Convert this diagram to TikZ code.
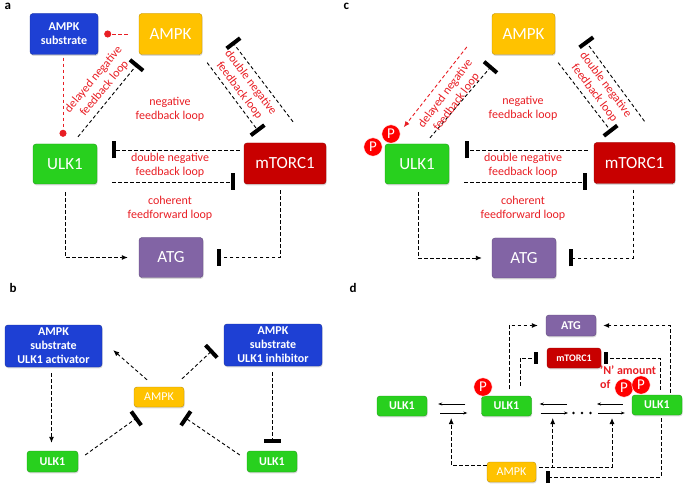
\documentclass[tikz,border=0pt]{standalone}
\usepackage{fontspec}
\setmainfont{Carlito}
\usetikzlibrary{arrows.meta,shadows}

\definecolor{ampkyellow}{RGB}{255,194,0}
\definecolor{ulkgreen}{RGB}{40,208,30}
\definecolor{mtorred}{RGB}{200,0,0}
\definecolor{atgpurple}{RGB}{130,100,165}
\definecolor{subblue}{RGB}{30,64,212}
\definecolor{looptext}{RGB}{232,30,36}

\tikzset{
  box/.style={draw=#1!75!black,fill=#1,rounded corners=3pt,text=white,inner sep=0pt,
    drop shadow={opacity=0.3,shadow xshift=0.6pt,shadow yshift=-1.4pt}},
  bigtext/.style={font=\fontsize{17}{20}\selectfont},
  smalltext/.style={font=\fontsize{12}{14}\selectfont},
  boldtext/.style={font=\bfseries\fontsize{12}{14}\selectfont},
  looplabel/.style={text=looptext,align=center,font=\fontsize{12}{14}\selectfont},
  link/.style={dash pattern=on 3.5pt off 2.5pt,line width=0.9pt},
  act/.style={link,-{Latex[length=6pt,width=5pt]}},
  inh/.style={link,-{Bar[width=17pt,line width=4pt]}},
  inhsmall/.style={link,-{Bar[width=12pt,line width=3.5pt]}},
  rxn/.style={line width=0.6pt,-{Stealth[length=4pt,width=3pt]}},
  pdot/.style={circle,fill=red,draw=white,line width=0.5pt,text=white,inner sep=0pt,
    minimum size=18.5pt,font=\fontsize{15}{15}\selectfont},
  panel/.style={font=\bfseries\fontsize{13}{13}\selectfont,anchor=north west}
}

\begin{document}
\begin{tikzpicture}[x=1pt,y=-1pt]
\useasboundingbox (0,0) rectangle (685,486);

\node[panel] (labA) at (1,0) {a};
\node[box=subblue,boldtext,align=center,minimum width=68pt,minimum height=41pt] (subA) at (64,34) {AMPK\\substrate};
\node[box=ampkyellow,bigtext,minimum width=63pt,minimum height=41pt] (ampkA) at (170.5,34) {AMPK};
\node[box=ulkgreen,bigtext,minimum width=64pt,minimum height=40pt] (ulkA) at (65,164) {ULK1};
\node[box=mtorred,bigtext,minimum width=82pt,minimum height=41pt] (mtorA) at (285,163.5) {mTORC1};
\node[box=atgpurple,bigtext,minimum width=64pt,minimum height=40pt] (atgA) at (171,257.5) {ATG};

\draw[link,looptext,-{Circle[length=7pt]}] ([shift={(-11,0)}]ampkA.west) -- ([shift={(6,0)}]subA.east);
\draw[link,looptext,-{Circle[length=7pt]}] ([shift={(-1,3)}]subA.south) -- ([shift={(-2,-7)}]ulkA.north);
\draw[inh] ([shift={(13,-7)}]ulkA.north) -- ([shift={(-1,9)}]ampkA.south west);
\draw[inh] ([shift={(5,8)}]ampkA.south east) -- ([shift={(15,-11)}]mtorA.north west);
\draw[inh] ([shift={(8,-21)}]mtorA.north) -- ([shift={(30,-13)}]ampkA.south east);
\draw[inh] ([shift={(-4,-13.5)}]mtorA.west) -- ([shift={(15,-14)}]ulkA.east);
\draw[inh] ([shift={(15,18)}]ulkA.east) -- ([shift={(-9,18.5)}]mtorA.west);
\draw[act] ([shift={(0.5,8)}]ulkA.south) |- ([shift={(-11,0)}]atgA.west);
\draw[inh] ([shift={(-5,6)}]mtorA.south) |- ([shift={(14,0)}]atgA.east);

\node[looplabel,rotate=50] (delA) at (99,84) {delayed negative\\feedback loop};
\node[looplabel] (negA) at (170,109) {negative\\feedback loop};
\node[looplabel,rotate=-53] (dnegA) at (245,86.5) {double negative\\feedback loop};
\node[looplabel] (dnegA2) at (170,165) {double negative\\feedback loop};
\node[looplabel] (cohA) at (170,208) {coherent\\feedforward loop};

\node[panel] (labC) at (340,0) {c};
\node[box=ampkyellow,bigtext,minimum width=63pt,minimum height=41pt] (ampkC) at (523.5,34) {AMPK};
\node[box=ulkgreen,bigtext,minimum width=64pt,minimum height=40pt] (ulkC) at (417,164) {ULK1};
\node[box=mtorred,bigtext,minimum width=81pt,minimum height=41pt] (mtorC) at (634.5,163) {mTORC1};
\node[box=atgpurple,bigtext,minimum width=64pt,minimum height=40pt] (atgC) at (524,258) {ATG};
\node[pdot] (pC2) at (373,147) {P};
\node[pdot] (pC1) at (391,134) {P};

\draw[link,looptext,-{Latex[length=6pt,width=5pt]}] ([shift={(-25,13)}]ampkC.west) -- ([shift={(6,0)}]pC1.north east);
\draw[inh] ([shift={(13,-6)}]ulkC.north) -- ([shift={(0,11)}]ampkC.south west);
\draw[inh] ([shift={(3,8)}]ampkC.south east) -- ([shift={(18,-10)}]mtorC.north west);
\draw[inh] ([shift={(10,-21)}]mtorC.north) -- ([shift={(30,-14)}]ampkC.south east);
\draw[inh] ([shift={(-6,-13)}]mtorC.west) -- ([shift={(16,-14)}]ulkC.east);
\draw[inh] ([shift={(15,18)}]ulkC.east) -- ([shift={(-7,19)}]mtorC.west);
\draw[act] ([shift={(1,8)}]ulkC.south) |- ([shift={(-10,0)}]atgC.west);
\draw[inh] ([shift={(-1.5,6)}]mtorC.south) |- ([shift={(13,0)}]atgC.east);

\node[looplabel,rotate=53] (delC) at (451,98) {delayed negative\\feedback loop};
\node[looplabel] (negC) at (523,108) {negative\\feedback loop};
\node[looplabel,rotate=-53] (dnegC) at (600,89) {double negative\\feedback loop};
\node[looplabel] (dnegC2) at (523,165) {double negative\\feedback loop};
\node[looplabel] (cohC) at (523,208) {coherent\\feedforward loop};

\node[panel] (labB) at (6,280) {b};
\node[box=subblue,boldtext,align=center,minimum width=97pt,minimum height=42pt] (actB) at (53.5,346) {AMPK\\substrate\\ULK1 activator};
\node[box=subblue,boldtext,align=center,minimum width=98pt,minimum height=42pt] (inhB) at (273,345) {AMPK\\substrate\\ULK1 inhibitor};
\node[box=ampkyellow,smalltext,minimum width=50pt,minimum height=20pt] (ampkB) at (159,397) {AMPK};
\node[box=ulkgreen,boldtext,minimum width=51pt,minimum height=21pt] (ulkBl) at (52.5,461.5) {ULK1};
\node[box=ulkgreen,boldtext,minimum width=50pt,minimum height=21pt] (ulkBr) at (272,461.5) {ULK1};

\draw[act] ([shift={(-12,-7)}]ampkB.north) -- ([shift={(11,-17)}]actB.south east);
\draw[inh] ([shift={(23,-8)}]ampkB.north) -- ([shift={(-11,5)}]inhB.west);
\draw[act] ([shift={(-2,6)}]actB.south) -- ([shift={(-1,-8)}]ulkBl.north);
\draw[inh] ([shift={(-1,6)}]inhB.south) -- ([shift={(0,-8)}]ulkBr.north);
\draw[inh] ([shift={(7,-6.5)}]ulkBl.east) -- ([shift={(4,10)}]ampkB.south west);
\draw[inh] ([shift={(-7,-6.5)}]ulkBr.west) -- ([shift={(0,10)}]ampkB.south east);

\node[panel] (labD) at (346,280) {d};
\node[box=atgpurple,boldtext,minimum width=50pt,minimum height=21pt] (atgD) at (571,325.5) {ATG};
\node[box=mtorred,font=\bfseries\fontsize{10}{12}\selectfont,minimum width=54pt,minimum height=20pt] (mtorD) at (574,358) {mTORC1};
\node[box=ulkgreen,boldtext,minimum width=50pt,minimum height=20pt] (ulkD1) at (402,406) {ULK1};
\node[box=ulkgreen,boldtext,minimum width=50pt,minimum height=20pt] (ulkD2) at (506.5,406) {ULK1};
\node[box=ulkgreen,boldtext,minimum width=50pt,minimum height=20pt] (ulkD3) at (657,405) {ULK1};
\node[box=ampkyellow,smalltext,minimum width=49pt,minimum height=20pt] (ampkD) at (511.5,472) {AMPK};
\node[pdot] (pD1) at (483,387) {P};
\node[anchor=west,text=looptext,align=left,inner sep=0pt,font=\bfseries\fontsize{12}{14}\selectfont] (nD) at (600,377) {'N' amount\\of};
\node[pdot] (pD2) at (624,388) {P};
\node[pdot] (pD3) at (641,385) {P};
\coordinate (dotsD) at (582,413);
\fill ([shift={(-8.5,0)}]dotsD) circle (1.4);
\fill (dotsD) circle (1.4);
\fill ([shift={(8.5,0)}]dotsD) circle (1.4);

\draw[rxn] ([shift={(-16,-2)}]ulkD2.west) -- ([shift={(11,-2)}]ulkD1.east);
\draw[rxn] ([shift={(13,7)}]ulkD1.east) -- ([shift={(-14,7)}]ulkD2.west);
\draw[rxn] ([shift={(-15,-9)}]dotsD) -- ([shift={(8,-2)}]ulkD2.east);
\draw[rxn] ([shift={(9,7)}]ulkD2.east) -- ([shift={(-14,0)}]dotsD);
\draw[rxn] ([shift={(-9,-1)}]ulkD3.west) -- ([shift={(15,-9)}]dotsD);
\draw[rxn] ([shift={(16,0)}]dotsD) -- ([shift={(-7,8)}]ulkD3.west);

\draw[act] ([shift={(2.5,-7)}]ulkD2.north) |- ([shift={(-8,0)}]atgD.west);
\draw[act] ([shift={(13,-2)}]ulkD3.north) |- ([shift={(7,0)}]atgD.east);
\draw[inhsmall] ([shift={(13.5,-10)}]ulkD2.north) |- ([shift={(-9,0)}]mtorD.west);
\draw[inhsmall] ([shift={(3,-5)}]ulkD3.north) |- ([shift={(3,0)}]mtorD.east);
\draw[act] ([shift={(0,-7)}]ampkD.west) -| ([shift={(24,12)}]ulkD1.east);
\draw[act] ([shift={(3,-5)}]ampkD.east) -| ([shift={(21,12)}]ulkD2.east);
\draw[act] ([shift={(3,-5)}]ampkD.east) -| ([shift={(30,5)}]dotsD);
\draw[inhsmall] ([shift={(4,3)}]ulkD3.south) |- ([shift={(10,5)}]ampkD.east);
\end{tikzpicture}
\end{document}
